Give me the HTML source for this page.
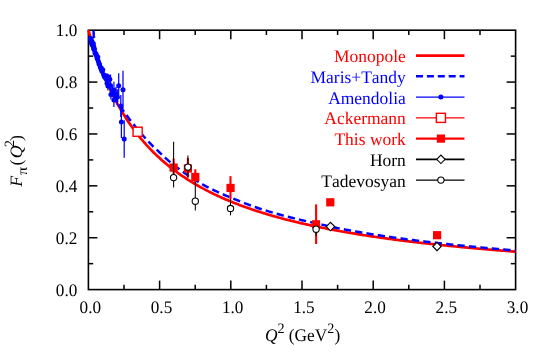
<!DOCTYPE html><html><head><meta charset="utf-8"><style>html,body{margin:0;padding:0;background:#fff}svg{display:block;will-change:transform}</style></head><body><svg width="545" height="363" viewBox="0 0 545 363">
<rect width="545" height="363" fill="#fff"/>
<rect x="88.4" y="30.2" width="427.2" height="259.4" fill="none" stroke="#000" stroke-width="1.6"/>
<g stroke="#000" stroke-width="1.5">
<line x1="124.00" y1="289.60" x2="124.00" y2="284.80"/>
<line x1="124.00" y1="30.20" x2="124.00" y2="35.00"/>
<line x1="159.60" y1="289.60" x2="159.60" y2="280.60"/>
<line x1="159.60" y1="30.20" x2="159.60" y2="39.20"/>
<line x1="195.20" y1="289.60" x2="195.20" y2="284.80"/>
<line x1="195.20" y1="30.20" x2="195.20" y2="35.00"/>
<line x1="230.80" y1="289.60" x2="230.80" y2="280.60"/>
<line x1="230.80" y1="30.20" x2="230.80" y2="39.20"/>
<line x1="266.40" y1="289.60" x2="266.40" y2="284.80"/>
<line x1="266.40" y1="30.20" x2="266.40" y2="35.00"/>
<line x1="302.00" y1="289.60" x2="302.00" y2="280.60"/>
<line x1="302.00" y1="30.20" x2="302.00" y2="39.20"/>
<line x1="337.60" y1="289.60" x2="337.60" y2="284.80"/>
<line x1="337.60" y1="30.20" x2="337.60" y2="35.00"/>
<line x1="373.20" y1="289.60" x2="373.20" y2="280.60"/>
<line x1="373.20" y1="30.20" x2="373.20" y2="39.20"/>
<line x1="408.80" y1="289.60" x2="408.80" y2="284.80"/>
<line x1="408.80" y1="30.20" x2="408.80" y2="35.00"/>
<line x1="444.40" y1="289.60" x2="444.40" y2="280.60"/>
<line x1="444.40" y1="30.20" x2="444.40" y2="39.20"/>
<line x1="480.00" y1="289.60" x2="480.00" y2="284.80"/>
<line x1="480.00" y1="30.20" x2="480.00" y2="35.00"/>
<line x1="88.40" y1="263.66" x2="93.20" y2="263.66"/>
<line x1="515.60" y1="263.66" x2="510.80" y2="263.66"/>
<line x1="88.40" y1="237.72" x2="97.40" y2="237.72"/>
<line x1="515.60" y1="237.72" x2="506.60" y2="237.72"/>
<line x1="88.40" y1="211.78" x2="93.20" y2="211.78"/>
<line x1="515.60" y1="211.78" x2="510.80" y2="211.78"/>
<line x1="88.40" y1="185.84" x2="97.40" y2="185.84"/>
<line x1="515.60" y1="185.84" x2="506.60" y2="185.84"/>
<line x1="88.40" y1="159.90" x2="93.20" y2="159.90"/>
<line x1="515.60" y1="159.90" x2="510.80" y2="159.90"/>
<line x1="88.40" y1="133.96" x2="97.40" y2="133.96"/>
<line x1="515.60" y1="133.96" x2="506.60" y2="133.96"/>
<line x1="88.40" y1="108.02" x2="93.20" y2="108.02"/>
<line x1="515.60" y1="108.02" x2="510.80" y2="108.02"/>
<line x1="88.40" y1="82.08" x2="97.40" y2="82.08"/>
<line x1="515.60" y1="82.08" x2="506.60" y2="82.08"/>
<line x1="88.40" y1="56.14" x2="93.20" y2="56.14"/>
<line x1="515.60" y1="56.14" x2="510.80" y2="56.14"/>
</g>
<path d="M88.40,30.20 L89.82,35.15 L91.25,39.92 L92.67,44.51 L94.10,48.93 L95.52,53.20 L96.94,57.31 L98.37,61.29 L99.79,65.14 L101.22,68.85 L102.64,72.45 L104.06,75.93 L105.49,79.30 L106.91,82.56 L108.34,85.73 L109.76,88.80 L111.18,91.78 L112.61,94.67 L114.03,97.48 L115.46,100.21 L116.88,102.86 L118.30,105.44 L119.73,107.95 L121.15,110.39 L122.58,112.77 L124.00,115.08 L125.42,117.34 L126.85,119.53 L128.27,121.68 L129.70,123.76 L131.12,125.80 L132.54,127.79 L133.97,129.73 L135.39,131.62 L136.82,133.47 L138.24,135.28 L139.66,137.05 L141.09,138.77 L142.51,140.46 L143.94,142.11 L145.36,143.72 L146.78,145.30 L148.21,146.85 L149.63,148.36 L151.06,149.84 L152.48,151.29 L153.90,152.71 L155.33,154.10 L156.75,155.46 L158.18,156.80 L159.60,158.11 L161.02,159.39 L162.45,160.65 L163.87,161.89 L165.30,163.10 L166.72,164.29 L168.14,165.46 L169.57,166.60 L170.99,167.72 L172.42,168.83 L173.84,169.91 L175.26,170.98 L176.69,172.02 L178.11,173.05 L179.54,174.06 L180.96,175.05 L182.38,176.03 L183.81,176.99 L185.23,177.93 L186.66,178.86 L188.08,179.77 L189.50,180.67 L190.93,181.55 L192.35,182.42 L193.78,183.27 L195.20,184.12 L196.62,184.94 L198.05,185.76 L199.47,186.56 L200.90,187.35 L202.32,188.13 L203.74,188.90 L205.17,189.65 L206.59,190.39 L208.02,191.13 L209.44,191.85 L210.86,192.56 L212.29,193.26 L213.71,193.95 L215.14,194.63 L216.56,195.31 L217.98,195.97 L219.41,196.62 L220.83,197.27 L222.26,197.90 L223.68,198.53 L225.10,199.14 L226.53,199.75 L227.95,200.36 L229.38,200.95 L230.80,201.53 L232.22,202.11 L233.65,202.68 L235.07,203.25 L236.50,203.80 L237.92,204.35 L239.34,204.89 L240.77,205.43 L242.19,205.95 L243.62,206.48 L245.04,206.99 L246.46,207.50 L247.89,208.00 L249.31,208.50 L250.74,208.99 L252.16,209.47 L253.58,209.95 L255.01,210.42 L256.43,210.89 L257.86,211.35 L259.28,211.81 L260.70,212.26 L262.13,212.71 L263.55,213.15 L264.98,213.58 L266.40,214.02 L267.82,214.44 L269.25,214.86 L270.67,215.28 L272.10,215.69 L273.52,216.10 L274.94,216.50 L276.37,216.90 L277.79,217.29 L279.22,217.68 L280.64,218.07 L282.06,218.45 L283.49,218.83 L284.91,219.20 L286.34,219.57 L287.76,219.94 L289.18,220.30 L290.61,220.66 L292.03,221.01 L293.46,221.36 L294.88,221.71 L296.30,222.06 L297.73,222.40 L299.15,222.73 L300.58,223.07 L302.00,223.40 L303.42,223.72 L304.85,224.05 L306.27,224.37 L307.70,224.69 L309.12,225.00 L310.54,225.31 L311.97,225.62 L313.39,225.93 L314.82,226.23 L316.24,226.53 L317.66,226.83 L319.09,227.12 L320.51,227.41 L321.94,227.70 L323.36,227.99 L324.78,228.27 L326.21,228.55 L327.63,228.83 L329.06,229.10 L330.48,229.38 L331.90,229.65 L333.33,229.92 L334.75,230.18 L336.18,230.45 L337.60,230.71 L339.02,230.97 L340.45,231.22 L341.87,231.48 L343.30,231.73 L344.72,231.98 L346.14,232.23 L347.57,232.47 L348.99,232.72 L350.42,232.96 L351.84,233.20 L353.26,233.44 L354.69,233.67 L356.11,233.91 L357.54,234.14 L358.96,234.37 L360.38,234.60 L361.81,234.82 L363.23,235.05 L364.66,235.27 L366.08,235.49 L367.50,235.71 L368.93,235.92 L370.35,236.14 L371.78,236.35 L373.20,236.56 L374.62,236.77 L376.05,236.98 L377.47,237.19 L378.90,237.39 L380.32,237.60 L381.74,237.80 L383.17,238.00 L384.59,238.20 L386.02,238.40 L387.44,238.59 L388.86,238.79 L390.29,238.98 L391.71,239.17 L393.14,239.36 L394.56,239.55 L395.98,239.74 L397.41,239.92 L398.83,240.11 L400.26,240.29 L401.68,240.47 L403.10,240.65 L404.53,240.83 L405.95,241.01 L407.38,241.19 L408.80,241.36 L410.22,241.54 L411.65,241.71 L413.07,241.88 L414.50,242.05 L415.92,242.22 L417.34,242.39 L418.77,242.55 L420.19,242.72 L421.62,242.88 L423.04,243.05 L424.46,243.21 L425.89,243.37 L427.31,243.53 L428.74,243.69 L430.16,243.84 L431.58,244.00 L433.01,244.16 L434.43,244.31 L435.86,244.46 L437.28,244.62 L438.70,244.77 L440.13,244.92 L441.55,245.07 L442.98,245.22 L444.40,245.36 L445.82,245.51 L447.25,245.65 L448.67,245.80 L450.10,245.94 L451.52,246.08 L452.94,246.23 L454.37,246.37 L455.79,246.51 L457.22,246.65 L458.64,246.78 L460.06,246.92 L461.49,247.06 L462.91,247.19 L464.34,247.33 L465.76,247.46 L467.18,247.59 L468.61,247.72 L470.03,247.86 L471.46,247.99 L472.88,248.12 L474.30,248.24 L475.73,248.37 L477.15,248.50 L478.58,248.63 L480.00,248.75 L481.42,248.88 L482.85,249.00 L484.27,249.12 L485.70,249.25 L487.12,249.37 L488.54,249.49 L489.97,249.61 L491.39,249.73 L492.82,249.85 L494.24,249.97 L495.66,250.08 L497.09,250.20 L498.51,250.32 L499.94,250.43 L501.36,250.55 L502.78,250.66 L504.21,250.77 L505.63,250.89 L507.06,251.00 L508.48,251.11 L509.90,251.22 L511.33,251.33 L512.75,251.44 L514.18,251.55 L515.60,251.66" fill="none" stroke="#ff0000" stroke-width="2.7"/>
<path d="M93.38,30.20 L93.51,31.20 L93.58,32.20 L93.63,33.20 L93.67,34.20 L93.73,35.20 L93.84,36.20 L94.01,37.20 L94.14,38.20 L94.22,39.20 L94.26,40.20 L94.29,41.20 L94.32,42.20 L94.38,43.20 L94.49,44.20 L94.68,45.20 L94.93,46.20 L95.16,47.20 L95.38,48.20 L95.58,49.20 L95.79,50.20 L96.00,51.20 L96.22,52.20 L96.45,53.20 L96.71,54.20 L97.01,55.20 L97.35,56.20 L97.70,57.20 L98.06,58.20 L98.41,59.20 L98.77,60.20 L99.13,61.20 L99.50,62.20 L99.87,63.20 L100.24,64.20 L100.62,65.20 L100.99,66.20 L101.38,67.20 L101.76,68.20 L102.15,69.20 L102.54,70.20 L102.94,71.20 L103.34,72.20 L103.74,73.20 L104.15,74.20 L104.56,75.20 L104.98,76.20 L105.40,77.20 L105.82,78.20 L106.25,79.20 L106.68,80.20 L107.11,81.20 L107.55,82.20 L107.99,83.20 L108.44,84.20 L108.89,85.20 L109.35,86.20 L109.81,87.20 L110.28,88.20 L110.75,89.20 L111.22,90.20 L111.70,91.20 L112.19,92.20 L112.68,93.20 L113.17,94.20 L113.68,95.20 L114.23,96.20 L114.80,97.20 L115.38,98.20 L115.98,99.20 L116.59,100.20 L117.21,101.20 L117.83,102.20 L118.46,103.20 L119.09,104.20 L119.72,105.20 L120.35,106.20 L120.97,107.20 L121.58,108.20 L122.24,109.20 L122.94,110.20 L123.65,111.20 L124.39,112.20 L125.14,113.20 L125.88,114.20 L126.62,115.20 L127.35,116.20 L128.05,117.20 L128.77,118.20 L129.54,119.20 L130.33,120.20 L131.13,121.20 L131.94,122.20 L132.75,123.20 L133.54,124.20 L134.31,125.20 L135.07,126.20 L135.87,127.20 L136.69,128.20 L137.53,129.20 L138.38,130.20 L139.25,131.20 L140.12,132.20 L140.99,133.20 L141.87,134.20 L142.73,135.20 L143.58,136.20 L144.44,137.20 L145.31,138.20 L146.21,139.20 L147.12,140.20 L148.05,141.20 L149.00,142.20 L149.95,143.20 L150.91,144.20 L151.88,145.20 L152.85,146.20 L153.82,147.20 L155.33,148.29 L156.75,149.70 L158.18,151.11 L159.60,152.49 L161.02,153.86 L162.45,155.22 L163.87,156.55 L165.30,157.85 L166.72,159.14 L168.14,160.39 L169.57,161.62 L170.99,162.82 L172.42,163.98 L173.84,165.11 L175.26,166.20 L176.69,167.28 L178.11,168.34 L179.54,169.39 L180.96,170.43 L182.38,171.45 L183.81,172.46 L185.23,173.46 L186.66,174.44 L188.08,175.41 L189.50,176.36 L190.93,177.30 L192.35,178.22 L193.78,179.13 L195.20,180.03 L196.62,180.91 L198.05,181.78 L199.47,182.62 L200.90,183.46 L202.32,184.28 L203.74,185.08 L205.17,185.86 L206.59,186.63 L208.02,187.36 L209.44,188.07 L210.86,188.78 L212.29,189.47 L213.71,190.15 L215.14,190.82 L216.56,191.47 L217.98,192.12 L219.41,192.76 L220.83,193.39 L222.26,194.02 L223.68,194.63 L225.10,195.24 L226.53,195.83 L227.95,196.43 L229.38,197.01 L230.80,197.59 L232.22,198.19 L233.65,198.78 L235.07,199.37 L236.50,199.95 L237.92,200.53 L239.34,201.11 L240.77,201.68 L242.19,202.25 L243.62,202.81 L245.04,203.36 L246.46,203.91 L247.89,204.45 L249.31,204.98 L250.74,205.51 L252.16,206.03 L253.58,206.54 L255.01,207.04 L256.43,207.53 L257.86,208.02 L259.28,208.49 L260.70,208.94 L262.13,209.39 L263.55,209.84 L264.98,210.28 L266.40,210.72 L267.82,211.15 L269.25,211.58 L270.67,212.00 L272.10,212.42 L273.52,212.84 L274.94,213.25 L276.37,213.65 L277.79,214.05 L279.22,214.44 L280.64,214.83 L282.06,215.21 L283.49,215.59 L284.91,215.97 L286.34,216.34 L287.76,216.71 L289.18,217.08 L290.61,217.44 L292.03,217.80 L293.46,218.15 L294.88,218.50 L296.30,218.85 L297.73,219.19 L299.15,219.53 L300.58,219.87 L302.00,220.21 L303.42,220.54 L304.85,220.86 L306.27,221.19 L307.70,221.51 L309.12,221.83 L310.54,222.14 L311.97,222.45 L313.39,222.76 L314.82,223.06 L316.24,223.36 L317.66,223.68 L319.09,224.00 L320.51,224.32 L321.94,224.64 L323.36,224.96 L324.78,225.29 L326.21,225.61 L327.63,225.93 L329.06,226.25 L330.48,226.56 L331.90,226.88 L333.33,227.19 L334.75,227.50 L336.18,227.80 L337.60,228.10 L339.02,228.40 L340.45,228.69 L341.87,228.97 L343.30,229.25 L344.72,229.52 L346.14,229.77 L347.57,230.03 L348.99,230.29 L350.42,230.55 L351.84,230.80 L353.26,231.06 L354.69,231.31 L356.11,231.57 L357.54,231.82 L358.96,232.07 L360.38,232.32 L361.81,232.57 L363.23,232.81 L364.66,233.06 L366.08,233.30 L367.50,233.54 L368.93,233.78 L370.35,234.01 L371.78,234.24 L373.20,234.47 L374.62,234.70 L376.05,234.92 L377.47,235.14 L378.90,235.36 L380.32,235.58 L381.74,235.78 L383.17,235.99 L384.59,236.20 L386.02,236.40 L387.44,236.61 L388.86,236.81 L390.29,237.02 L391.71,237.22 L393.14,237.42 L394.56,237.62 L395.98,237.82 L397.41,238.02 L398.83,238.22 L400.26,238.42 L401.68,238.61 L403.10,238.80 L404.53,239.00 L405.95,239.18 L407.38,239.37 L408.80,239.56 L410.22,239.74 L411.65,239.92 L413.07,240.10 L414.50,240.28 L415.92,240.45 L417.34,240.63 L418.77,240.80 L420.19,240.97 L421.62,241.14 L423.04,241.31 L424.46,241.48 L425.89,241.65 L427.31,241.82 L428.74,241.98 L430.16,242.15 L431.58,242.31 L433.01,242.48 L434.43,242.64 L435.86,242.81 L437.28,242.97 L438.70,243.13 L440.13,243.29 L441.55,243.45 L442.98,243.61 L444.40,243.77 L445.82,243.92 L447.25,244.08 L448.67,244.23 L450.10,244.39 L451.52,244.54 L452.94,244.69 L454.37,244.84 L455.79,244.99 L457.22,245.14 L458.64,245.29 L460.06,245.43 L461.49,245.58 L462.91,245.72 L464.34,245.86 L465.76,246.00 L467.18,246.14 L468.61,246.28 L470.03,246.42 L471.46,246.55 L472.88,246.69 L474.30,246.82 L475.73,246.96 L477.15,247.09 L478.58,247.22 L480.00,247.36 L481.42,247.49 L482.85,247.62 L484.27,247.75 L485.70,247.89 L487.12,248.02 L488.54,248.15 L489.97,248.28 L491.39,248.41 L492.82,248.54 L494.24,248.67 L495.66,248.80 L497.09,248.92 L498.51,249.05 L499.94,249.18 L501.36,249.30 L502.78,249.43 L504.21,249.55 L505.63,249.67 L507.06,249.79 L508.48,249.91 L509.90,250.03 L511.33,250.15 L512.75,250.26 L514.18,250.38 L515.60,250.49" fill="none" stroke="#0000ff" stroke-width="2.5" stroke-dasharray="7.32,4.16" stroke-dashoffset="-0.5"/>
<g stroke="#0000ff" stroke-width="1.25" fill="#0000ff">
<line x1="90.54" y1="40.04" x2="90.54" y2="37.18"/>
<circle cx="90.54" cy="38.61" r="2.5" stroke="none"/>
<line x1="90.82" y1="41.03" x2="90.82" y2="38.07"/>
<circle cx="90.82" cy="39.55" r="2.5" stroke="none"/>
<line x1="91.11" y1="40.36" x2="91.11" y2="37.30"/>
<circle cx="91.11" cy="38.83" r="2.5" stroke="none"/>
<line x1="91.39" y1="44.12" x2="91.39" y2="40.96"/>
<circle cx="91.39" cy="42.54" r="2.5" stroke="none"/>
<line x1="91.68" y1="43.08" x2="91.68" y2="39.81"/>
<circle cx="91.68" cy="41.45" r="2.5" stroke="none"/>
<line x1="91.96" y1="46.11" x2="91.96" y2="42.74"/>
<circle cx="91.96" cy="44.43" r="2.5" stroke="none"/>
<line x1="92.24" y1="43.80" x2="92.24" y2="40.32"/>
<circle cx="92.24" cy="42.06" r="2.5" stroke="none"/>
<line x1="92.53" y1="45.64" x2="92.53" y2="42.06"/>
<circle cx="92.53" cy="43.85" r="2.5" stroke="none"/>
<line x1="92.81" y1="45.41" x2="92.81" y2="41.73"/>
<circle cx="92.81" cy="43.57" r="2.5" stroke="none"/>
<line x1="93.10" y1="48.26" x2="93.10" y2="44.48"/>
<circle cx="93.10" cy="46.37" r="2.5" stroke="none"/>
<line x1="93.38" y1="48.26" x2="93.38" y2="44.37"/>
<circle cx="93.38" cy="46.32" r="2.5" stroke="none"/>
<line x1="93.67" y1="49.92" x2="93.67" y2="45.93"/>
<circle cx="93.67" cy="47.92" r="2.5" stroke="none"/>
<line x1="93.95" y1="51.34" x2="93.95" y2="47.24"/>
<circle cx="93.95" cy="49.29" r="2.5" stroke="none"/>
<line x1="94.38" y1="51.76" x2="94.38" y2="47.51"/>
<circle cx="94.38" cy="49.63" r="2.5" stroke="none"/>
<line x1="94.95" y1="55.17" x2="94.95" y2="50.71"/>
<circle cx="94.95" cy="52.94" r="2.5" stroke="none"/>
<line x1="95.52" y1="55.95" x2="95.52" y2="51.28"/>
<circle cx="95.52" cy="53.61" r="2.5" stroke="none"/>
<line x1="96.09" y1="56.46" x2="96.09" y2="51.59"/>
<circle cx="96.09" cy="54.03" r="2.5" stroke="none"/>
<line x1="96.66" y1="58.97" x2="96.66" y2="53.89"/>
<circle cx="96.66" cy="56.43" r="2.5" stroke="none"/>
<line x1="97.23" y1="61.28" x2="97.23" y2="55.99"/>
<circle cx="97.23" cy="58.64" r="2.5" stroke="none"/>
<line x1="97.80" y1="59.64" x2="97.80" y2="54.14"/>
<circle cx="97.80" cy="56.89" r="2.5" stroke="none"/>
<line x1="98.37" y1="64.07" x2="98.37" y2="58.36"/>
<circle cx="98.37" cy="61.22" r="2.5" stroke="none"/>
<line x1="98.94" y1="66.60" x2="98.94" y2="60.68"/>
<circle cx="98.94" cy="63.64" r="2.5" stroke="none"/>
<line x1="99.51" y1="67.22" x2="99.51" y2="61.10"/>
<circle cx="99.51" cy="64.16" r="2.5" stroke="none"/>
<line x1="100.22" y1="70.20" x2="100.22" y2="63.82"/>
<circle cx="100.22" cy="67.01" r="2.5" stroke="none"/>
<line x1="101.07" y1="72.40" x2="101.07" y2="65.71"/>
<circle cx="101.07" cy="69.05" r="2.5" stroke="none"/>
<line x1="101.93" y1="74.70" x2="101.93" y2="67.69"/>
<circle cx="101.93" cy="71.20" r="2.5" stroke="none"/>
<line x1="102.78" y1="73.29" x2="102.78" y2="65.98"/>
<circle cx="102.78" cy="69.63" r="2.5" stroke="none"/>
<line x1="103.64" y1="78.67" x2="103.64" y2="71.05"/>
<circle cx="103.64" cy="74.86" r="2.5" stroke="none"/>
<line x1="104.49" y1="80.63" x2="104.49" y2="72.69"/>
<circle cx="104.49" cy="76.66" r="2.5" stroke="none"/>
<line x1="105.35" y1="81.94" x2="105.35" y2="73.69"/>
<circle cx="105.35" cy="77.82" r="2.5" stroke="none"/>
<line x1="106.20" y1="81.69" x2="106.20" y2="73.13"/>
<circle cx="106.20" cy="77.41" r="2.5" stroke="none"/>
<line x1="107.05" y1="87.72" x2="107.05" y2="78.85"/>
<circle cx="107.05" cy="83.29" r="2.5" stroke="none"/>
<line x1="107.91" y1="90.53" x2="107.91" y2="81.35"/>
<circle cx="107.91" cy="85.94" r="2.5" stroke="none"/>
<line x1="107.60" y1="73.50" x2="107.60" y2="79.50"/>
<circle cx="107.60" cy="76.50" r="2.5" stroke="none"/>
<line x1="109.80" y1="75.30" x2="109.80" y2="83.30"/>
<circle cx="109.80" cy="79.30" r="2.5" stroke="none"/>
<line x1="110.50" y1="74.50" x2="110.50" y2="96.50"/>
<circle cx="110.50" cy="85.50" r="2.5" stroke="none"/>
<line x1="113.90" y1="81.80" x2="113.90" y2="98.80"/>
<circle cx="113.90" cy="90.30" r="2.5" stroke="none"/>
<line x1="118.70" y1="73.30" x2="118.70" y2="98.30"/>
<circle cx="118.70" cy="85.80" r="2.5" stroke="none"/>
<line x1="123.00" y1="70.70" x2="123.00" y2="108.70"/>
<circle cx="123.00" cy="89.70" r="2.5" stroke="none"/>
<line x1="110.90" y1="89.40" x2="110.90" y2="99.40"/>
<circle cx="110.90" cy="94.40" r="2.5" stroke="none"/>
<line x1="112.40" y1="86.50" x2="112.40" y2="96.50"/>
<circle cx="112.40" cy="91.50" r="2.5" stroke="none"/>
<line x1="113.90" y1="93.00" x2="113.90" y2="107.00"/>
<circle cx="113.90" cy="100.00" r="2.5" stroke="none"/>
<line x1="117.30" y1="89.20" x2="117.30" y2="105.20"/>
<circle cx="117.30" cy="97.20" r="2.5" stroke="none"/>
<line x1="116.00" y1="87.00" x2="116.00" y2="101.00"/>
<circle cx="116.00" cy="94.00" r="2.5" stroke="none"/>
<line x1="120.80" y1="95.10" x2="120.80" y2="117.10"/>
<circle cx="120.80" cy="106.10" r="2.5" stroke="none"/>
<line x1="121.40" y1="106.00" x2="121.40" y2="138.00"/>
<circle cx="121.40" cy="122.00" r="2.5" stroke="none"/>
<line x1="124.20" y1="120.30" x2="124.20" y2="157.70"/>
<circle cx="124.20" cy="139.00" r="2.5" stroke="none"/>
</g>
<rect x="133.10" y="127.20" width="9.10" height="9.10" fill="#fff" stroke="#ff0000" stroke-width="1.4"/>
<line x1="173.60" y1="158.50" x2="173.60" y2="175.00" stroke="#ff0000" stroke-width="2.1"/>
<rect x="169.50" y="163.50" width="8.20" height="8.20" fill="#ff0000"/>
<line x1="173.60" y1="141.70" x2="173.60" y2="187.50" stroke="#000" stroke-width="1.05"/>
<circle cx="173.60" cy="177.60" r="3.15" fill="#fff" stroke="#000" stroke-width="1.1"/>
<line x1="187.90" y1="158.00" x2="187.90" y2="177.60" stroke="#ff0000" stroke-width="2.1"/>
<rect x="183.80" y="164.40" width="8.20" height="8.20" fill="#ff0000"/>
<line x1="187.90" y1="155.50" x2="187.90" y2="177.20" stroke="#000" stroke-width="1.05"/>
<circle cx="187.90" cy="167.10" r="3.15" fill="#fff" stroke="#000" stroke-width="1.1"/>
<line x1="195.30" y1="181.00" x2="195.30" y2="210.60" stroke="#000" stroke-width="1.05"/>
<circle cx="195.30" cy="201.20" r="3.15" fill="#fff" stroke="#000" stroke-width="1.1"/>
<line x1="195.30" y1="169.30" x2="195.30" y2="182.00" stroke="#ff0000" stroke-width="2.1"/>
<rect x="191.20" y="172.90" width="8.20" height="8.20" fill="#ff0000"/>
<line x1="230.50" y1="199.00" x2="230.50" y2="215.30" stroke="#000" stroke-width="1.05"/>
<circle cx="230.50" cy="208.50" r="3.15" fill="#fff" stroke="#000" stroke-width="1.1"/>
<line x1="230.50" y1="176.10" x2="230.50" y2="199.30" stroke="#ff0000" stroke-width="2.1"/>
<rect x="226.45" y="183.85" width="8.20" height="8.20" fill="#ff0000"/>
<line x1="316.10" y1="204.40" x2="316.10" y2="244.00" stroke="#ff0000" stroke-width="2.1"/>
<rect x="311.95" y="220.20" width="8.20" height="8.20" fill="#ff0000"/>
<line x1="316.10" y1="226.00" x2="316.10" y2="236.00" stroke="#000" stroke-width="1.05"/>
<circle cx="316.10" cy="229.20" r="3.15" fill="#fff" stroke="#000" stroke-width="1.1"/>
<path d="M326.30,226.60 L330.50,222.40 L334.70,226.60 L330.50,230.80 Z" fill="#fff" stroke="#000" stroke-width="1.1"/>
<rect x="326.20" y="198.20" width="8.20" height="8.20" fill="#ff0000"/>
<rect x="433.00" y="231.10" width="8.20" height="8.20" fill="#ff0000"/>
<path d="M432.80,246.50 L437.00,242.30 L441.20,246.50 L437.00,250.70 Z" fill="#fff" stroke="#000" stroke-width="1.1"/>
<g font-family="Liberation Serif, serif" font-size="17.7" style="font-kerning:none" text-rendering="geometricPrecision">
<text transform="translate(90.30,313.00) scale(0.972,1)" text-anchor="middle" fill="#000">0.0</text>
<text transform="translate(161.50,313.00) scale(0.972,1)" text-anchor="middle" fill="#000">0.5</text>
<text transform="translate(232.70,313.00) scale(0.972,1)" text-anchor="middle" fill="#000">1.0</text>
<text transform="translate(303.90,313.00) scale(0.972,1)" text-anchor="middle" fill="#000">1.5</text>
<text transform="translate(375.10,313.00) scale(0.972,1)" text-anchor="middle" fill="#000">2.0</text>
<text transform="translate(446.30,313.00) scale(0.972,1)" text-anchor="middle" fill="#000">2.5</text>
<text transform="translate(517.50,313.00) scale(0.972,1)" text-anchor="middle" fill="#000">3.0</text>
<text transform="translate(77.30,295.80) scale(0.972,1)" text-anchor="end" fill="#000">0.0</text>
<text transform="translate(77.30,243.92) scale(0.972,1)" text-anchor="end" fill="#000">0.2</text>
<text transform="translate(77.30,192.04) scale(0.972,1)" text-anchor="end" fill="#000">0.4</text>
<text transform="translate(77.30,140.16) scale(0.972,1)" text-anchor="end" fill="#000">0.6</text>
<text transform="translate(77.30,88.28) scale(0.972,1)" text-anchor="end" fill="#000">0.8</text>
<text transform="translate(77.30,36.40) scale(0.972,1)" text-anchor="end" fill="#000">1.0</text>
<text transform="translate(264.90,341.00) scale(0.98,1)" text-anchor="start" fill="#000"><tspan font-style="italic">Q</tspan><tspan font-size="14.4" dy="-7.9">2</tspan><tspan dy="7.9"> (GeV</tspan><tspan font-size="14.4" dy="-7.9">2</tspan><tspan dy="7.9">)</tspan></text>
<g transform="translate(22.4,186.7) scale(0.98,1) rotate(-90)">
<text x="0" y="0" font-style="italic">F</text>
<text transform="translate(11.6,5) scale(1.12,1)" font-size="14.4">π</text>
<text x="21.3" y="0">(</text>
<text x="28.4" y="0" font-style="italic">Q</text>
<text x="39.4" y="-8.2" font-size="14.4">2</text>
<text x="45.7" y="0">)</text>
</g>
<text transform="translate(405.80,62.00) scale(0.988,1)" text-anchor="end" fill="#ff0000">Monopole</text>
<text transform="translate(405.80,82.75) scale(0.988,1)" text-anchor="end" fill="#0000ff">Maris+Tandy</text>
<text transform="translate(405.80,103.50) scale(0.988,1)" text-anchor="end" fill="#0000ff">Amendolia</text>
<text transform="translate(405.80,124.25) scale(0.988,1)" text-anchor="end" fill="#ff0000">Ackermann</text>
<text transform="translate(405.80,145.00) scale(0.988,1)" text-anchor="end" fill="#ff0000">This work</text>
<text transform="translate(405.80,165.75) scale(0.988,1)" text-anchor="end" fill="#000">Horn</text>
<text transform="translate(405.80,186.50) scale(0.988,1)" text-anchor="end" fill="#000">Tadevosyan</text>
</g>
<line x1="416" y1="55.6" x2="464.5" y2="55.6" stroke="#ff0000" stroke-width="2.7"/>
<line x1="416" y1="76.35" x2="464.5" y2="76.35" stroke="#0000ff" stroke-width="2.5" stroke-dasharray="7,3.9"/>
<line x1="416" y1="97.1" x2="464.5" y2="97.1" stroke="#0000ff" stroke-width="1.25"/>
<circle cx="440.9" cy="97.1" r="2.5" fill="#0000ff"/>
<line x1="416" y1="117.85" x2="464.5" y2="117.85" stroke="#ff0000" stroke-width="1.4"/>
<rect x="436.35" y="113.30" width="9.10" height="9.10" fill="#fff" stroke="#ff0000" stroke-width="1.4"/>
<line x1="416" y1="138.6" x2="464.5" y2="138.6" stroke="#ff0000" stroke-width="2.1"/>
<rect x="436.80" y="134.50" width="8.20" height="8.20" fill="#ff0000"/>
<line x1="416" y1="159.35" x2="464.5" y2="159.35" stroke="#000" stroke-width="1.6"/>
<path d="M436.70,159.35 L440.90,155.15 L445.10,159.35 L440.90,163.55 Z" fill="#fff" stroke="#000" stroke-width="1.1"/>
<line x1="416" y1="180.1" x2="464.5" y2="180.1" stroke="#000" stroke-width="1.2"/>
<circle cx="440.90" cy="180.10" r="3.15" fill="#fff" stroke="#000" stroke-width="1.1"/>
</svg></body></html>
